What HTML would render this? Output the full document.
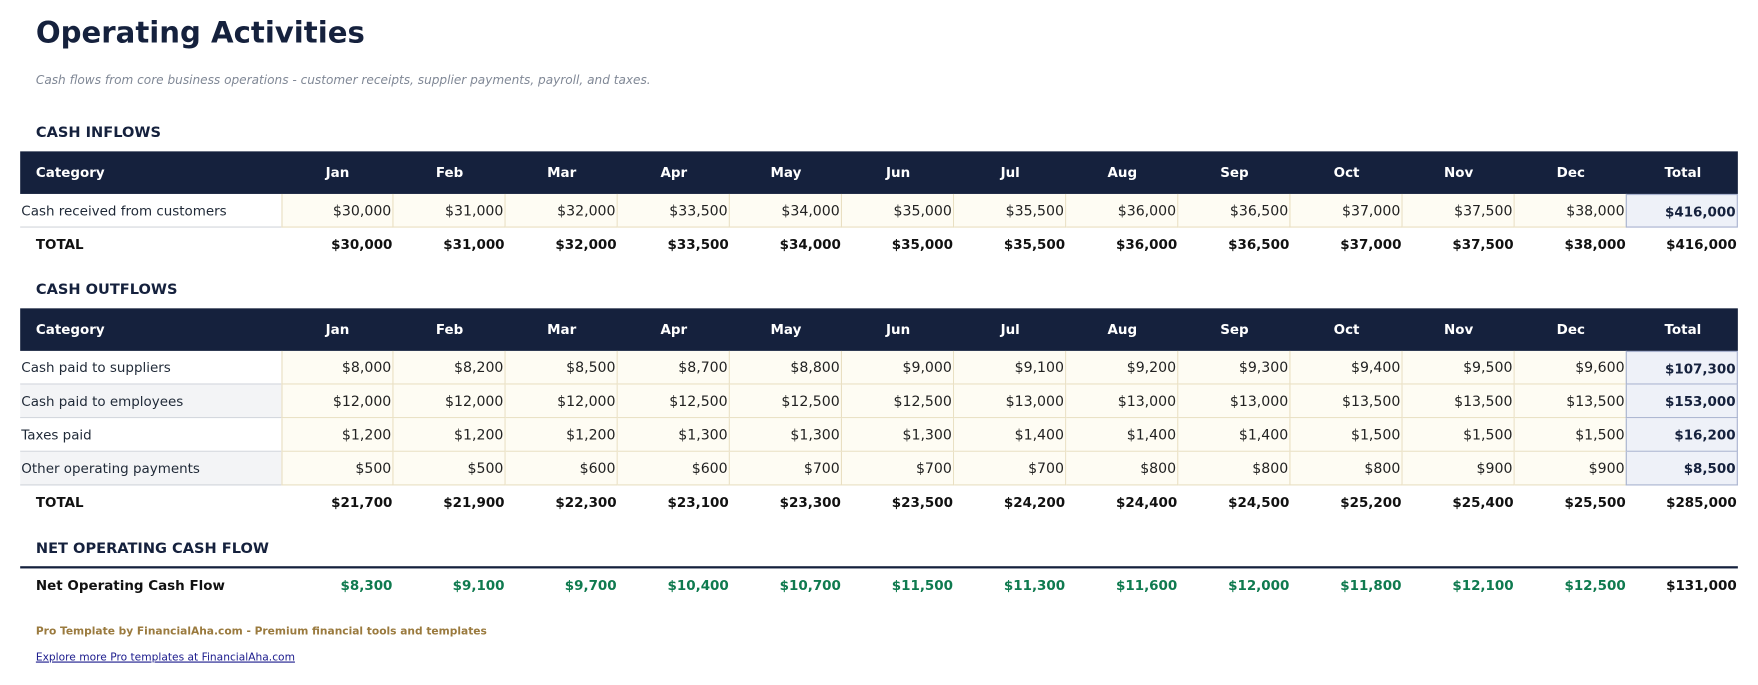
<!DOCTYPE html>
<html><head><meta charset="utf-8"><style>
body{margin:0;width:1758px;height:685px;background:#fff;font-family:"DejaVu Sans","Liberation Sans",sans-serif;position:relative;overflow:hidden;color:#1f2937}
#wrap{position:absolute;left:0;top:0;width:1568px;height:611px;transform:scale(1.1212);transform-origin:0 0}
.a{position:absolute;box-sizing:border-box;white-space:nowrap;font-size:12px;line-height:30px}
</style></head><body>
<div id="wrap">
<div class="a" style="left:32px;top:10px;font-size:26px;line-height:40px;font-weight:bold;color:#15213d">Operating Activities</div>
<div class="a" style="left:32px;top:64px;font-size:10.8px;line-height:16px;font-style:italic;color:#808896">Cash flows from core business operations - customer receipts, supplier payments, payroll, and taxes.</div>
<div id="root"></div>
<div class="a" style="left:32px;top:557px;font-size:9.5px;line-height:14px;font-weight:bold;color:#9a7a3e">Pro Template by FinancialAha.com - Premium financial tools and templates</div>
<a class="a" style="left:32px;top:580px;font-size:9.5px;line-height:14px;color:#1a1a8c;text-decoration:underline">Explore more Pro templates at FinancialAha.com</a>
</div>
<script>
const months=["Jan","Feb","Mar","Apr","May","Jun","Jul","Aug","Sep","Oct","Nov","Dec"];
const inflowLabels=["Cash received from customers"];
const inflowValues=[[30000,31000,32000,33500,34000,35000,35500,36000,36500,37000,37500,38000]];
const outflowLabels=["Cash paid to suppliers","Cash paid to employees","Taxes paid","Other operating payments"];
const outflowValues=[
[8000,8200,8500,8700,8800,9000,9100,9200,9300,9400,9500,9600],
[12000,12000,12000,12500,12500,12500,13000,13000,13000,13500,13500,13500],
[1200,1200,1200,1300,1300,1300,1400,1400,1400,1500,1500,1500],
[500,500,600,600,700,700,700,800,800,800,900,900]];
const root=document.getElementById('root');
const fmt=v=>'$'+v.toLocaleString('en-US');
function colX(i){return 251+100*i;}
function box(x,y,w,h,txt,css){const d=document.createElement('div');d.className='a';d.style.left=x+'px';d.style.top=y+'px';d.style.width=w+'px';d.style.height=h+'px';d.textContent=txt;d.style.cssText+=css;root.appendChild(d);return d;}
function section(title,y,labels,values,key){
  let h=box(32,y-15,600,30,title,'font-weight:bold;color:#15213d;font-size:13px;');
  
  
  let hy=y+16;
  let bar=box(18,hy,1532,38,'','background:#15213d;');
  
  
  let c=box(32,hy,200,38,'Category','color:#fff;font-weight:bold;line-height:38px;');
  
  
  months.concat(['Total']).forEach((m,i)=>{
    let e=box(colX(i),hy,100,38,m,'color:#fff;font-weight:bold;line-height:38px;text-align:center;');
    
    
  });
  let ry=hy+38;
  const totals=months.map(()=>0);
  labels.forEach((lab,r)=>{
    const bg=r%2?'#f3f4f6':'#fff';
    let l=box(18,ry,233,30,lab,'background:'+bg+';padding-left:1px;border-bottom:1px solid #d1d5db;');
    
    
    let sum=0;
    values[r].forEach((v,i)=>{
      sum+=v;totals[i]+=v;
      let e=box(colX(i),ry,100,30,fmt(v),'font-size:12.6px;background:#fefcf3;border:1px solid #e9dfc2;border-top:none;border-left:'+(i==0?'1px solid #e9dfc2':'none')+';text-align:right;padding-right:1px;color:#222;');
      
      
    });
    let t=box(1450,ry,100,30,fmt(sum),'background:#eef1f8;border:1px solid #a9b3cf;border-top:'+(r==0?'1px solid #a9b3cf':'none')+';text-align:right;padding-right:1px;font-weight:bold;color:#15213d;');
    
    
    ry+=30;
  });
  let tl=box(32,ry,200,30,'TOTAL','font-weight:bold;color:#111;');
  
  
  let grand=0;
  totals.forEach((v,i)=>{grand+=v;
    let e=box(colX(i),ry,100,30,fmt(v),'text-align:right;padding-right:1px;font-weight:bold;color:#111;');
    
    
  });
  let g=box(1450,ry,100,30,fmt(grand),'text-align:right;padding-right:1px;font-weight:bold;color:#111;');
  
  
  return totals;
}
const inT=section('CASH INFLOWS',119,inflowLabels,inflowValues,'inflows');
const outT=section('CASH OUTFLOWS',259,outflowLabels,outflowValues,'outflows');
let nh=box(32,475,600,30,'NET OPERATING CASH FLOW','font-weight:bold;color:#15213d;font-size:13px;');


let ln=box(18,505,1532,2,'','background:#15213d;');


let nl=box(32,507,220,30,'Net Operating Cash Flow','font-weight:bold;color:#111;');


let net=0;
months.forEach((m,i)=>{const v=inT[i]-outT[i];net+=v;
  let e=box(colX(i),507,100,30,fmt(v),'text-align:right;padding-right:1px;font-weight:bold;color:#0f7a4f;');
  
  
});
let nt=box(1450,507,100,30,fmt(net),'text-align:right;padding-right:1px;font-weight:bold;color:#111;');


</script>
</body></html>
